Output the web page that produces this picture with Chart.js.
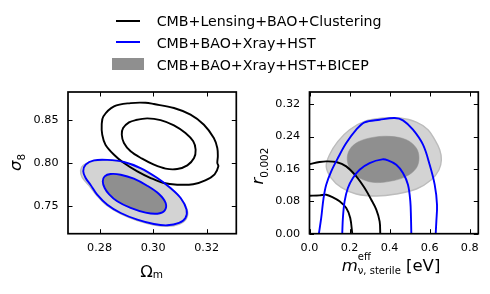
<!DOCTYPE html>
<html>
<head>
<meta charset="utf-8">
<script src="https://cdn.jsdelivr.net/npm/chart.js@4.4.1/dist/chart.umd.min.js"></script>
<style>
html,body{margin:0;padding:0;background:#fff;}
#wrap{position:relative;width:490px;height:294px;overflow:hidden;background:#fff;}
canvas{position:absolute;top:0;}
#c1{left:0;} #c2{left:245px;}
#legend{position:absolute;left:0;top:0;width:490px;height:80px;font-family:"DejaVu Sans",sans-serif;font-size:14.2px;color:#000;z-index:2;}
.lt{position:absolute;left:156.7px;height:20px;line-height:20px;white-space:nowrap;}
.lh{position:absolute;}
</style>
</head>
<body>
<div id="wrap">
<canvas id="c1" width="245" height="294"></canvas>
<canvas id="c2" width="245" height="294"></canvas>
<div id="legend"></div>
</div>
<script>
// ---------- tick values ----------
const omegaTicks = [0.28, 0.30, 0.32];
const sigma8Ticks = [0.75, 0.80, 0.85];
const mnuTicks = [0.0, 0.2, 0.4, 0.6, 0.8];
const rTicks = [0.00, 0.08, 0.16, 0.24, 0.32];

// ---------- legend labels ----------
const legendLabels = ['CMB+Lensing+BAO+Clustering', 'CMB+BAO+Xray+HST', 'CMB+BAO+Xray+HST+BICEP'];

// ---------- left panel: (Omega_m, sigma_8) contours ----------
const lensOuterOmSig = [[0.2808,0.8442],[0.2814,0.8538],[0.2854,0.8654],[0.2916,0.8692],[0.2972,0.8696],[0.3003,0.8681],[0.3078,0.8635],[0.3140,0.8558],[0.3190,0.8442],[0.3227,0.8288],[0.3240,0.8173],[0.3242,0.8077],[0.3240,0.8000],[0.3244,0.7962],[0.3230,0.7870],[0.3195,0.7800],[0.3150,0.7755],[0.3090,0.7750],[0.3040,0.7769],[0.2991,0.7827],[0.2941,0.7904],[0.2891,0.8000],[0.2854,0.8096],[0.2822,0.8212],[0.2810,0.8327]];
const lensInnerOmSig = [[0.2888,0.8404],[0.2910,0.8469],[0.2935,0.8496],[0.2978,0.8515],[0.3028,0.8496],[0.3078,0.8435],[0.3121,0.8346],[0.3150,0.8250],[0.3159,0.8154],[0.3153,0.8058],[0.3128,0.7973],[0.3090,0.7931],[0.3047,0.7935],[0.3003,0.7981],[0.2959,0.8050],[0.2916,0.8135],[0.2891,0.8231],[0.2883,0.8327]];
const xrayOuterOmSig = [[0.2739,0.7904],[0.2748,0.7981],[0.2779,0.8030],[0.2829,0.8036],[0.2891,0.8012],[0.2953,0.7942],[0.3016,0.7827],[0.3065,0.7712],[0.3103,0.7596],[0.3125,0.7462],[0.3121,0.7365],[0.3097,0.7308],[0.3053,0.7281],[0.3003,0.7296],[0.2941,0.7346],[0.2879,0.7423],[0.2829,0.7519],[0.2791,0.7635],[0.2766,0.7750],[0.2748,0.7827]];
const xrayInnerOmSig = [[0.2812,0.7788],[0.2819,0.7846],[0.2841,0.7873],[0.2879,0.7865],[0.2928,0.7819],[0.2978,0.7738],[0.3022,0.7642],[0.3047,0.7538],[0.3043,0.7450],[0.3016,0.7415],[0.2972,0.7427],[0.2916,0.7481],[0.2866,0.7558],[0.2835,0.7642],[0.2819,0.7712]];
const bicepOuterOmSig = [[0.2729,0.7912],[0.2739,0.7973],[0.2773,0.8019],[0.2829,0.8030],[0.2891,0.8008],[0.2953,0.7935],[0.3016,0.7819],[0.3065,0.7704],[0.3105,0.7588],[0.3128,0.7454],[0.3124,0.7354],[0.3099,0.7296],[0.3053,0.7269],[0.3003,0.7285],[0.2941,0.7335],[0.2879,0.7412],[0.2826,0.7512],[0.2789,0.7627],[0.2760,0.7742],[0.2735,0.7835]];
const bicepInnerOmSig = [[0.2813,0.7788],[0.2820,0.7844],[0.2841,0.7870],[0.2879,0.7862],[0.2928,0.7816],[0.2978,0.7736],[0.3021,0.7641],[0.3046,0.7538],[0.3042,0.7452],[0.3016,0.7418],[0.2972,0.7429],[0.2916,0.7483],[0.2866,0.7560],[0.2836,0.7642],[0.2820,0.7712]];

// ---------- right panel: (m_nu, r) contours ----------
const lensOuterMnuR = [[0.000,0.1721],[0.0502,0.1770],[0.0835,0.1787],[0.1335,0.1770],[0.1835,0.1663],[0.2335,0.1416],[0.2752,0.1128],[0.3085,0.0839],[0.3335,0.0593],[0.3502,0.0305],[0.3535,0.000]];
const lensInnerMnuR = [[0.000,0.0939],[0.0502,0.0947],[0.0835,0.0963],[0.1168,0.0897],[0.1502,0.0799],[0.1835,0.0634],[0.2035,0.0388],[0.2135,0.000]];
const xrayOuterMnuR = [[0.0468,0.000],[0.0585,0.0388],[0.0702,0.0881],[0.0835,0.1211],[0.1085,0.1540],[0.1418,0.1869],[0.1835,0.2239],[0.2335,0.2569],[0.2752,0.2750],[0.3502,0.2815],[0.4252,0.2857],[0.4668,0.2799],[0.5168,0.2569],[0.5668,0.2198],[0.6002,0.1704],[0.6252,0.1211],[0.6368,0.0717],[0.6335,0.0305],[0.6302,0.000]];
const xrayInnerMnuR = [[0.1635,0.000],[0.1668,0.0388],[0.1752,0.0799],[0.1918,0.1128],[0.2168,0.1375],[0.2502,0.1581],[0.3002,0.1746],[0.3635,0.1836],[0.3918,0.1811],[0.4335,0.1704],[0.4668,0.1499],[0.4918,0.1211],[0.5035,0.0799],[0.5068,0.0388],[0.5085,0.000]];
const bicepOuterMnuR = [[0.0835,0.1664],[0.1002,0.1951],[0.1418,0.2281],[0.2002,0.2569],[0.2752,0.2774],[0.3668,0.2857],[0.4502,0.2857],[0.5335,0.2758],[0.5918,0.2569],[0.6252,0.2322],[0.6502,0.2075],[0.6585,0.1828],[0.6468,0.1581],[0.6085,0.1334],[0.5335,0.1104],[0.4335,0.0980],[0.3335,0.0931],[0.2335,0.0980],[0.1585,0.1145],[0.1085,0.1375]];
const bicepInnerMnuR = [[0.1885,0.1828],[0.2002,0.2075],[0.2418,0.2264],[0.3168,0.2379],[0.4002,0.2404],[0.4835,0.2322],[0.5335,0.2116],[0.5468,0.1869],[0.5335,0.1622],[0.4835,0.1416],[0.4002,0.1293],[0.3168,0.1268],[0.2502,0.1375],[0.2085,0.1540]];

// ---------- styling ----------
const BLACK = '#000000', BLUE = '#0000ff', LIGHT = '#d3d3d3', LIGHT_EDGE = '#bcbcbc', DARK = '#8f8f8f';
const FONT = '"DejaVu Sans"';

function contour(pts, o) {
  return {
    data: pts.map(p => ({x: p[0], y: p[1]})),
    showLine: true,
    borderColor: o.border,
    borderWidth: o.width,
    backgroundColor: o.fill || 'rgba(0,0,0,0)',
    fill: o.fill ? 'shape' : false,
    tension: 0.35,
    pointRadius: 0,
    closed: !!o.closed,
    order: o.order
  };
}

// make closed contours proper smooth loops
const loopPlugin = {
  id: 'closedLoops',
  afterDatasetsUpdate(chart) {
    chart.data.datasets.forEach((ds, i) => {
      if (!ds.closed) return;
      const line = chart.getDatasetMeta(i).dataset;
      if (!line) return;
      line._loop = true;
      line._fullLoop = true;
      delete line._segments;
      line._path = undefined;
      line._pointsUpdated = false;
    });
  }
};

// matplotlib-style frame with inward ticks
const framePlugin = {
  id: 'frame',
  afterDatasetsDraw(chart) {
    const {ctx, chartArea: a, scales: {x, y}} = chart;
    ctx.save();
    ctx.strokeStyle = '#000';
    ctx.lineWidth = 1;
    const seg = (x1, y1, x2, y2) => { ctx.beginPath(); ctx.moveTo(x1, y1); ctx.lineTo(x2, y2); ctx.stroke(); };
    x.ticks.forEach(t => { const p = Math.round(x.getPixelForValue(t.value)) + 0.5; seg(p, a.bottom, p, a.bottom - 4.5); seg(p, a.top, p, a.top + 4.5); });
    y.ticks.forEach(t => { const p = Math.round(y.getPixelForValue(t.value)) + 0.5; seg(a.left, p, a.left + 4.5, p); seg(a.right, p, a.right - 4.5, p); });
    ctx.lineWidth = 1.7;
    ctx.strokeRect(a.left, a.top, a.right - a.left, a.bottom - a.top);
    ctx.restore();
  }
};

function partWidth(ctx, p) {
  if (p.stack) return Math.max(...p.stack.map(q => { ctx.font = q.font; return ctx.measureText(q.t).width; }));
  ctx.font = p.font; return ctx.measureText(p.t).width;
}
function drawRich(ctx, parts, cx, baseline) {
  const total = parts.reduce((s, p) => s + partWidth(ctx, p), 0);
  let x = cx - total / 2;
  ctx.textBaseline = 'alphabetic'; ctx.textAlign = 'left'; ctx.fillStyle = '#000';
  parts.forEach(p => {
    const w = partWidth(ctx, p);
    (p.stack || [p]).forEach(q => { ctx.font = q.font; ctx.fillText(q.t, x, baseline + (q.dy || 0)); });
    x += w;
  });
}
function titlePlugin(spec) {
  return {
    id: 'axisTitles',
    afterDraw(chart) {
      const ctx = chart.ctx;
      ctx.save();
      drawRich(ctx, spec.xParts, spec.xCenter, spec.xBase);
      ctx.translate(spec.yBase, spec.yCenter);
      ctx.rotate(-Math.PI / 2);
      drawRich(ctx, spec.yParts, 0, 0);
      ctx.restore();
    }
  };
}

const tickFont = {family: 'DejaVu Sans', size: 11.2};
function makeScale(axis, min, max, ticksArr, digits, fitSize, pad) {
  return {
    type: 'linear', min: min, max: max,
    grid: {display: false, drawTicks: false},
    border: {display: false},
    ticks: {color: '#000', font: tickFont, padding: pad, maxRotation: 0, autoSkip: false,
            callback: v => Number(v).toFixed(digits)},
    afterBuildTicks: s => { s.ticks = ticksArr.map(v => ({value: v})); },
    afterFit: s => { if (axis === 'x') s.height = fitSize; else s.width = fitSize; }
  };
}
function baseOptions(padRight, xs, ys) {
  return {
    responsive: false, animation: false, events: [],
    layout: {padding: {left: 0, top: 92, right: padRight, bottom: 0}},
    plugins: {legend: {display: false}, tooltip: {enabled: false}},
    scales: {x: xs, y: ys}
  };
}

// ---------- left chart ----------
new Chart(document.getElementById('c1'), {
  type: 'scatter',
  data: {datasets: [
    contour(bicepOuterOmSig, {border: LIGHT_EDGE, width: 1.4, fill: LIGHT, closed: true, order: 5}),
    contour(bicepInnerOmSig, {border: DARK, width: 0.5, fill: DARK, closed: true, order: 4}),
    contour(lensOuterOmSig, {border: BLACK, width: 1.9, closed: true, order: 2}),
    contour(lensInnerOmSig, {border: BLACK, width: 1.9, closed: true, order: 2}),
    contour(xrayOuterOmSig, {border: BLUE, width: 1.9, closed: true, order: 1}),
    contour(xrayInnerOmSig, {border: BLUE, width: 1.9, closed: true, order: 1})
  ]},
  options: baseOptions(8.7,
    makeScale('x', 0.2682, 0.3311, omegaTicks, 2, 60.3, 8),
    makeScale('y', 0.7184, 0.8820, sigma8Ticks, 2, 68, 9.5)),
  plugins: [loopPlugin, framePlugin, titlePlugin({
    xCenter: 151.6, xBase: 277.3,
    xParts: [{t: 'Ω', font: '16.5px ' + FONT}, {t: 'm', font: '10.5px ' + FONT, dy: 1}],
    yBase: 20.7, yCenter: 162.5,
    yParts: [{t: 'σ', font: 'italic 16.5px ' + FONT}, {t: '8', font: '10.5px ' + FONT, dy: 4.3}]
  })]
});

// ---------- right chart ----------
new Chart(document.getElementById('c2'), {
  type: 'scatter',
  data: {datasets: [
    contour(bicepOuterMnuR, {border: LIGHT_EDGE, width: 1.4, fill: LIGHT, closed: true, order: 5}),
    contour(bicepInnerMnuR, {border: DARK, width: 0.5, fill: DARK, closed: true, order: 4}),
    contour(lensOuterMnuR, {border: BLACK, width: 1.9, order: 2}),
    contour(lensInnerMnuR, {border: BLACK, width: 1.9, order: 2}),
    contour(xrayOuterMnuR, {border: BLUE, width: 1.9, order: 1}),
    contour(xrayInnerMnuR, {border: BLUE, width: 1.9, order: 1})
  ]},
  options: baseOptions(11.7,
    makeScale('x', 0, 0.843, mnuTicks, 1, 60.3, 8),
    makeScale('y', 0, 0.35, rTicks, 2, 64.5, 9.3)),
  plugins: [loopPlugin, framePlugin, titlePlugin({
    xCenter: 146, xBase: 270.5,
    xParts: [{t: 'm', font: 'italic 16.5px ' + FONT},
             {stack: [{t: 'eff', font: '10px ' + FONT, dy: -10.5}, {t: 'ν, sterile', font: '10px ' + FONT, dy: 3.5}]},
             {t: ' [eV]', font: '16.5px ' + FONT}],
    yBase: 18.3, yCenter: 166,
    yParts: [{t: 'r', font: 'italic 16.5px ' + FONT}, {t: '0.002', font: '10.5px ' + FONT, dy: 5}]
  })]
});

// ---------- legend (HTML text) ----------
(function () {
  const lg = document.getElementById('legend');
  const tops = [11.45, 33.05, 54.95];
  const handles = [
    {left: 116, top: 19.8, width: 24, height: 1.8, bg: BLACK},
    {left: 116, top: 40.8, width: 24, height: 1.8, bg: BLUE},
    {left: 111.7, top: 58.3, width: 32.6, height: 11.7, bg: DARK}
  ];
  legendLabels.forEach((label, i) => {
    const h = document.createElement('div');
    h.className = 'lh';
    Object.assign(h.style, {left: handles[i].left + 'px', top: handles[i].top + 'px', width: handles[i].width + 'px', height: handles[i].height + 'px', background: handles[i].bg});
    lg.appendChild(h);
    const t = document.createElement('div');
    t.className = 'lt';
    t.style.top = tops[i] + 'px';
    t.textContent = label;
    lg.appendChild(t);
  });
})();
</script>
</body>
</html>
